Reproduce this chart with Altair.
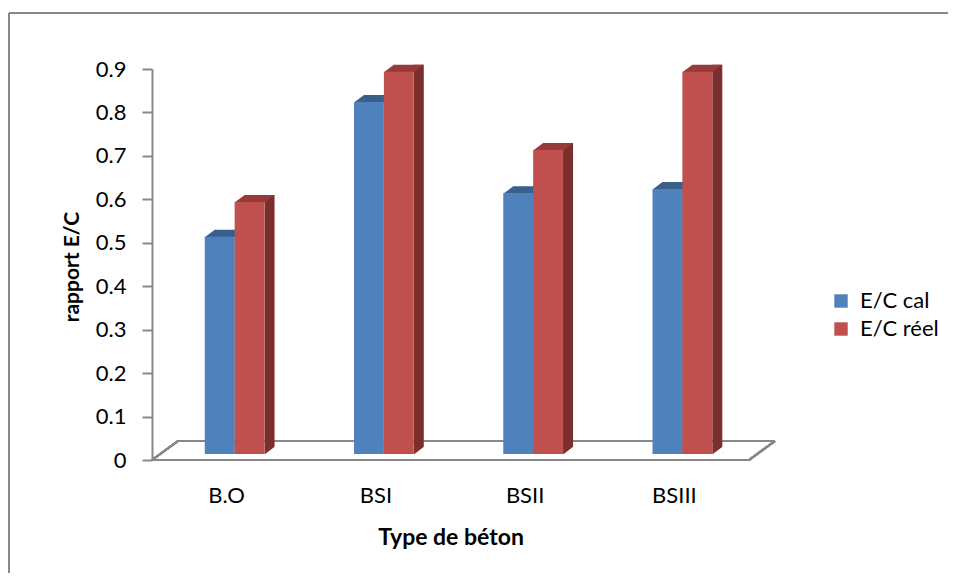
import altair as alt
import pandas as pd

categories = ["B.O", "BSI", "BSII", "BSIII"]
series = ["E/C cal", "E/C réel"]
cal_values = [0.50, 0.81, 0.60, 0.61]
reel_values = [0.58, 0.88, 0.70, 0.88]

front_colors = ["#4F81BD", "#C0504D"]
top_colors = ["#3A5F8C", "#963B39"]
side_colors = ["#2E4B6E", "#7A2F2D"]

rows = []
for c, a, b in zip(categories, cal_values, reel_values):
    rows.append({"cat": c, "series": series[0], "value": a})
    rows.append({"cat": c, "series": series[1], "value": b})
df = pd.DataFrame(rows)

W, H = 597, 391
FONT = "Lato"
GRAY = "#888888"
DX, DY = 8, -6          # front face offset of the 3-D bars
BW = W / 4 * 0.4        # width of a bar pair
h = BW / 4              # half width of one bar

top_path = f"M{-h:.2f},0.5L{h:.2f},0.5L{h + 10:.2f},-7L{-h + 10:.2f},-7Z"
white_path = f"M{h:.2f},0.6L{h + 10.6:.2f},-7.4L{h + 10.6:.2f},0.6Z"

xenc = alt.X("cat:N", sort=categories,
             scale=alt.Scale(paddingInner=0.6, paddingOuter=0.3),
             axis=alt.Axis(title="Type de béton", labelAngle=0, domain=False,
                           ticks=False, tickSize=0, labelPadding=35,
                           labelBaseline="middle", labelFontSize=22,
                           labelFont=FONT, labelColor="#000",
                           titleFont=FONT, titleFontSize=23,
                           titleFontWeight="bold", titleColor="#000",
                           titleY=77, titleBaseline="middle"))


def xoff(shift):
    return alt.XOffset("series:N", sort=series,
                       scale=alt.Scale(type="band", range=[shift, shift + BW],
                                       paddingInner=0, paddingOuter=0))


yscale = alt.Scale(domain=[0, 0.9], nice=False, zero=True)
yenc = alt.Y("value:Q", scale=yscale,
             axis=alt.Axis(title="rapport E/C", values=[i / 10 for i in range(10)],
                           labelExpr="datum.value == 0 ? '0' : format(datum.value, '.1f')",
                           grid=False, domainColor=GRAY, domainWidth=2,
                           tickColor=GRAY, tickWidth=2, tickSize=10,
                           labelPadding=16, labelFontSize=22, labelFont=FONT,
                           labelColor="#000", titleFont=FONT, titleFontSize=21,
                           titleFontWeight="bold", titleColor="#000",
                           titleX=-80, titleY=H / 2 + 2, titleBaseline="middle",
                           titleAlign="center", titleAngle=-90))

base = alt.Chart(df)

border_top = base.mark_rule(color=GRAY, strokeWidth=2).encode(
    x=alt.value(-143), x2=alt.value(W + 200), y=alt.value(-56))
border_left = base.mark_rule(color=GRAY, strokeWidth=2).encode(
    x=alt.value(-143), y=alt.value(-56), y2=alt.value(H + 200))

floor_front = base.mark_rule(color=GRAY, strokeWidth=2).encode(
    x=alt.value(0), x2=alt.value(W), y=alt.datum(0, scale=yscale))
floor_back = base.mark_rule(color=GRAY, strokeWidth=2, yOffset=-19).encode(
    x=alt.value(26), x2=alt.value(W + 26), y=alt.datum(0, scale=yscale))
floor_left = base.mark_rule(color=GRAY, strokeWidth=2, y2Offset=-19).encode(
    x=alt.value(0), x2=alt.value(26), y=alt.datum(0, scale=yscale),
    y2=alt.datum(0))
floor_right = base.mark_rule(color=GRAY, strokeWidth=2, y2Offset=-19).encode(
    x=alt.value(W), x2=alt.value(W + 26), y=alt.datum(0, scale=yscale),
    y2=alt.datum(0))

sides = base.mark_bar(width=10, yOffset=DY - 7, y2Offset=DY).encode(
    x=xenc, xOffset=xoff(DX + 20), y=yenc, y2=alt.datum(0),
    color=alt.Color("series:N", sort=series,
                    scale=alt.Scale(domain=series, range=side_colors), legend=None))

whites = base.mark_point(shape=white_path, size=4, filled=True,
                         opacity=1, strokeWidth=0, color="white",
                         yOffset=DY).encode(
    x=xenc, xOffset=xoff(DX), y=alt.datum(0, scale=yscale))

tops = base.mark_point(shape=top_path, size=4, filled=True,
                       opacity=1, strokeWidth=0, yOffset=DY).encode(
    x=xenc, xOffset=xoff(DX), y=yenc,
    fill=alt.Fill("series:N", sort=series,
                  scale=alt.Scale(domain=series, range=top_colors), legend=None))

fronts = base.mark_bar(yOffset=DY, y2Offset=DY).encode(
    x=xenc, xOffset=xoff(DX), y=yenc, y2=alt.datum(0),
    color=alt.Color("series:N", sort=series,
                    scale=alt.Scale(domain=series, range=front_colors),
                    legend=alt.Legend(title=None, orient="none", legendX=678,
                                      legendY=221, symbolType="square",
                                      symbolSize=180, symbolStrokeWidth=0,
                                      symbolOpacity=1,
                                      labelFontSize=22, labelFont=FONT,
                                      labelColor="#000", labelOffset=8,
                                      rowPadding=6)))

layers = [border_top, border_left, floor_front, floor_back, floor_left,
          floor_right, sides, whites, tops, fronts]

chart = alt.layer(*layers).resolve_scale(
    color="independent", fill="independent", xOffset="independent"
).properties(
    width=W, height=H,
    background="white",
    autosize=alt.AutoSizeParams(type="none"),
    padding={"left": 144, "top": 61, "right": 199, "bottom": 113},
).configure_view(strokeWidth=0, stroke="transparent")

chart.save("out.html", embed_options={"renderer": "svg", "actions": False})
